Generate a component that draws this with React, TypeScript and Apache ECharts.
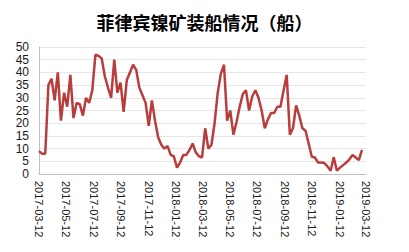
import React, { useEffect, useRef } from "react";
import * as echarts from "echarts";

const titleText = "菲律宾镍矿装船情况（船）";
const startDay = "2017-03-12";
const endDay = "2019-03-12";
const tickLabels = [
  "2017-03-12", "2017-05-12", "2017-07-12", "2017-09-12", "2017-11-12",
  "2018-01-12", "2018-03-12", "2018-05-12", "2018-07-12", "2018-09-12",
  "2018-11-12", "2019-01-12", "2019-03-12",
];
// weekly shipments, starting 2017-03-12
const weeklyShips = [
  9, 8, 8, 35, 37.5, 29, 40, 21, 32, 26.5,
  39, 22, 28, 27.5, 23, 30, 28, 33, 47, 46.5,
  45.5, 38.5, 34, 30, 45, 32, 36, 24.5, 37, 40,
  43, 41, 34, 31, 28, 19, 29, 21, 14.5, 11.5,
  10, 11, 7.5, 7, 2.5, 4.5, 7.5, 7.5, 9.5, 12,
  8.5, 7, 6.5, 18, 10, 11.5, 20, 32, 39.5, 43,
  21, 25, 15.5, 20.5, 26.5, 31.5, 33, 25, 30.5, 33,
  30, 25, 18, 21.5, 24, 24, 26.5, 26.5, 33, 39,
  15.5, 18, 27, 23, 18, 17, 12, 6.8, 6.5, 4.5,
  4.5, 4.3, 3, 1.3, 6.6, 1.3, 2.5, 3.5, 4.5, 5.8,
  7.5, 6.5, 5.5, 9.5,
];
const weekStepDays = 7;

function buildDays(from: string, to: string): string[] {
  const out: string[] = [];
  const a = Date.parse(from + "T00:00:00Z");
  const b = Date.parse(to + "T00:00:00Z");
  for (let t = a; t <= b; t += 86400000) {
    out.push(new Date(t).toISOString().slice(0, 10));
  }
  return out;
}

export default function App() {
  const ref = useRef<HTMLDivElement>(null);
  useEffect(() => {
    if (!ref.current) return;
    const chart = echarts.init(ref.current, null, { renderer: "svg" });
    const days = buildDays(startDay, endDay);
    const seriesData: (number | null)[] = days.map(() => null);
    weeklyShips.forEach((v, i) => {
      const idx = i * weekStepDays;
      if (idx < seriesData.length) seriesData[idx] = v;
    });
    const labelSet = new Set(tickLabels);
    chart.setOption({
      animation: false,
      backgroundColor: "#ffffff",
      title: {
        text: titleText,
        left: "center",
        top: 8,
        textStyle: {
          fontFamily: "Noto Sans CJK SC",
          fontSize: 18,
          fontWeight: "bold",
          color: "#000000",
        },
      },
      grid: { left: 39, right: 43, top: 47, bottom: 78, containLabel: false },
      xAxis: {
        type: "category",
        data: days,
        boundaryGap: false,
        axisLine: { show: true, lineStyle: { color: "#bfbfbf", width: 1 } },
        axisTick: { show: false },
        splitLine: { show: false },
        axisLabel: {
          interval: (_i: number, v: string) => labelSet.has(v),
          rotate: -90,
          margin: 7,
          fontSize: 11,
          fontFamily: "Liberation Sans, Arial, sans-serif",
          color: "#1a1a1a",
          showMinLabel: true,
          showMaxLabel: true,
        },
      },
      yAxis: {
        type: "value",
        min: 0,
        max: 50,
        interval: 5,
        axisLine: { show: true, lineStyle: { color: "#bfbfbf", width: 1 } },
        axisTick: { show: false },
        splitLine: { show: true, lineStyle: { color: "#e6e6e6", width: 1 } },
        axisLabel: {
          margin: 10,
          fontSize: 12,
          fontFamily: "Liberation Sans, Arial, sans-serif",
          color: "#1a1a1a",
        },
      },
      series: [
        {
          type: "line",
          data: seriesData,
          connectNulls: true,
          showSymbol: false,
          symbol: "none",
          lineStyle: { color: "#b83d3d", width: 2.5 },
          itemStyle: { color: "#b83d3d" },
        },
      ],
    });
    return () => chart.dispose();
  }, []);
  return (
    <div
      ref={ref}
      style={{ position: "fixed", left: 0, top: 0, width: 409, height: 252, background: "#fff" }}
    />
  );
}
